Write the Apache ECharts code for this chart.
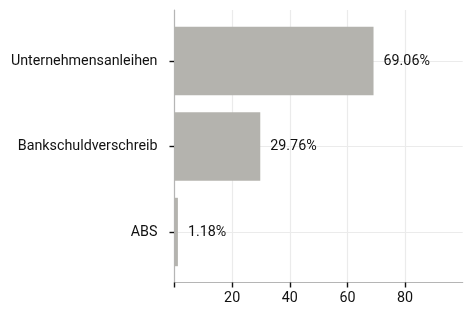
<!DOCTYPE html>
<html>
<head>
<meta charset="utf-8">
<script src="https://cdn.jsdelivr.net/npm/echarts@6/dist/echarts.min.js"></script>
<style>
  html, body { margin: 0; padding: 0; background: #fff; }
  #chart { width: 467px; height: 313px; }
</style>
</head>
<body>
<div id="chart"></div>
<script>
// bottom to top, as the category axis stacks them
const categories = ['ABS', 'Bankschuldverschreib', 'Unternehmensanleihen']
const shares = [1.18, 29.76, 69.06]
const xTicks = [0, 20, 40, 60, 80]
const xLabels = [20, 40, 60, 80]

const font = 'Roboto, "Noto Sans", sans-serif'
const gridColor = '#ebebeb'
const axisColor = '#b5b5b5'

const chart = echarts.init(document.getElementById('chart'))

chart.setOption({
  backgroundColor: '#fff',
  animation: false,
  textStyle: { fontFamily: font },
  grid: [
    // frame: axis lines, x ticks, vertical grid
    { left: 174.5, right: 4.3, top: 10, bottom: 30.5 },
    // bars, slightly inset like ggplot's discrete expansion
    { left: 174.5, right: 4.3, top: 18.25, bottom: 38.25 }
  ],
  xAxis: [
    {
      gridIndex: 0,
      type: 'value',
      min: 0,
      max: 100,
      interval: 20,
      axisLine: { show: true, lineStyle: { color: axisColor, width: 1.2 } },
      axisTick: {
        show: true,
        customValues: xTicks,
        length: 5,
        lineStyle: { color: '#111', width: 1.4 }
      },
      axisLabel: {
        customValues: xLabels,
        color: '#111',
        fontSize: 14.3,
        margin: 9
      },
      splitLine: { show: true, lineStyle: { color: gridColor, width: 1.2 } }
    },
    {
      gridIndex: 1,
      type: 'value',
      min: 0,
      max: 100,
      show: false
    }
  ],
  yAxis: [
    {
      gridIndex: 0,
      type: 'value',
      min: 0,
      max: 1,
      axisLine: { show: true, lineStyle: { color: axisColor, width: 1.2 } },
      axisTick: { show: false },
      axisLabel: { show: false },
      splitLine: { show: false }
    },
    {
      gridIndex: 1,
      type: 'category',
      data: categories,
      axisLine: { show: false },
      axisTick: {
        show: true,
        alignWithLabel: true,
        length: 5,
        lineStyle: { color: '#111', width: 1.4 }
      },
      axisLabel: {
        color: '#111',
        fontSize: 14.3,
        margin: 17
      },
      splitLine: { show: false }
    }
  ],
  series: [
    {
      type: 'bar',
      xAxisIndex: 1,
      yAxisIndex: 1,
      data: shares,
      barWidth: '80%',
      itemStyle: { color: '#b4b3ae' },
      label: {
        show: true,
        position: 'right',
        distance: 10,
        color: '#111',
        fontSize: 14.3,
        formatter: p => p.value.toFixed(2) + '%'
      },
      markLine: {
        silent: true,
        symbol: 'none',
        z: 1,
        label: { show: false },
        lineStyle: { color: gridColor, width: 1.2, type: 'solid' },
        data: categories.map(c => ({ yAxis: c }))
      }
    }
  ]
})
</script>
</body>
</html>
